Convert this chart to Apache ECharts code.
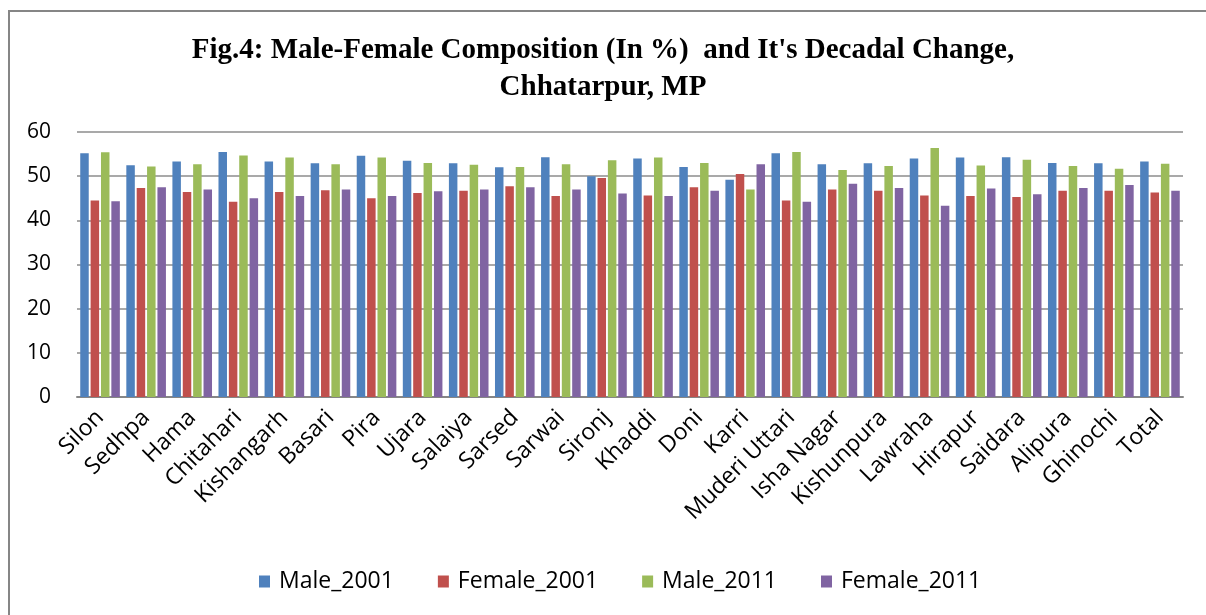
<!DOCTYPE html>
<html>
<head>
<meta charset="utf-8">
<script src="https://cdn.jsdelivr.net/npm/echarts@6/dist/echarts.min.js"></script>
<style>
  html, body { margin: 0; padding: 0; background: #fff; }
  #chart { width: 1206px; height: 615px; }
</style>
</head>
<body>
<div id="chart"></div>
<script>
// blocks of Chhatarpur district, last one is the district total
const blocks = ['Silon', 'Sedhpa', 'Hama', 'Chitahari', 'Kishangarh', 'Basari', 'Pira', 'Ujara',
  'Salaiya', 'Sarsed', 'Sarwai', 'Sironj', 'Khaddi', 'Doni', 'Karri', 'Muderi Uttari',
  'Isha Nagar', 'Kishunpura', 'Lawraha', 'Hirapur', 'Saidara', 'Alipura', 'Ghinochi', 'Total']

const male2001 = [55.2, 52.5, 53.3, 55.5, 53.3, 52.9, 54.6, 53.5, 52.9, 52.0, 54.3, 50.0,
  54.0, 52.1, 49.2, 55.2, 52.7, 52.9, 54.0, 54.2, 54.3, 53.0, 52.9, 53.3]
const female2001 = [44.5, 47.3, 46.4, 44.2, 46.4, 46.8, 45.0, 46.2, 46.7, 47.7, 45.5, 49.6,
  45.6, 47.5, 50.5, 44.5, 47.0, 46.7, 45.6, 45.5, 45.3, 46.7, 46.7, 46.3]
const male2011 = [55.4, 52.2, 52.7, 54.7, 54.2, 52.7, 54.2, 53.0, 52.6, 52.1, 52.7, 53.6,
  54.2, 53.0, 47.0, 55.5, 51.4, 52.3, 56.4, 52.4, 53.7, 52.3, 51.7, 52.8]
const female2011 = [44.3, 47.5, 47.0, 45.0, 45.5, 47.0, 45.5, 46.6, 47.0, 47.5, 47.0, 46.1,
  45.5, 46.7, 52.7, 44.2, 48.3, 47.3, 43.3, 47.2, 45.9, 47.3, 48.0, 46.7]

const yTicks = [0, 10, 20, 30, 40, 50, 60]

const font = '"Open Sans", sans-serif'
const colors = ['#4f81bd', '#c0504d', '#9bbb59', '#8064a2']

function bar(name, data) {
  return {
    name,
    type: 'bar',
    data,
    barWidth: 8.5,
    barGap: '22%',
  }
}

const chart = echarts.init(document.getElementById('chart'))
chart.setOption({
  animation: false,
  color: colors,
  title: {
    text: "Fig.4: Male-Female Composition (In %)  and It's Decadal Change,\nChhatarpur, MP",
    left: 'center',
    top: 27,
    textStyle: {
      fontFamily: '"Liberation Serif", serif',
      fontWeight: 'bold',
      fontSize: 29,
      lineHeight: 37,
      color: '#000',
    },
  },
  graphic: [{
    type: 'rect',
    shape: { x: 9, y: 11, width: 1210, height: 620 },
    style: { fill: 'none', stroke: '#868686', lineWidth: 2 },
    silent: true,
  }],
  legend: {
    bottom: 17,
    left: 254,
    itemWidth: 11,
    itemHeight: 12,
    itemGap: 44,
    icon: 'rect',
    textStyle: { fontFamily: font, fontSize: 23, color: '#000', padding: [0, 0, 0, 4] },
  },
  grid: { left: 77, right: 23, top: 132, bottom: 218, containLabel: false },
  xAxis: {
    type: 'category',
    data: blocks,
    axisLine: { lineStyle: { color: '#868686', width: 2 } },
    axisTick: { show: false },
    axisLabel: {
      interval: 0,
      rotate: 45,
      margin: 17,
      fontFamily: font,
      fontSize: 23,
      color: '#000',
    },
  },
  yAxis: {
    type: 'value',
    min: yTicks[0],
    max: yTicks[yTicks.length - 1],
    interval: 10,
    axisLine: { show: false },
    axisTick: { show: false },
    axisLabel: { margin: 26, fontFamily: font, fontSize: 21, color: '#000' },
    splitLine: { lineStyle: { color: '#8c8c8c', width: 1.5 } },
  },
  series: [
    bar('Male_2001', male2001),
    bar('Female_2001', female2001),
    bar('Male_2011', male2011),
    bar('Female_2011', female2011),
  ],
})
</script>
</body>
</html>
